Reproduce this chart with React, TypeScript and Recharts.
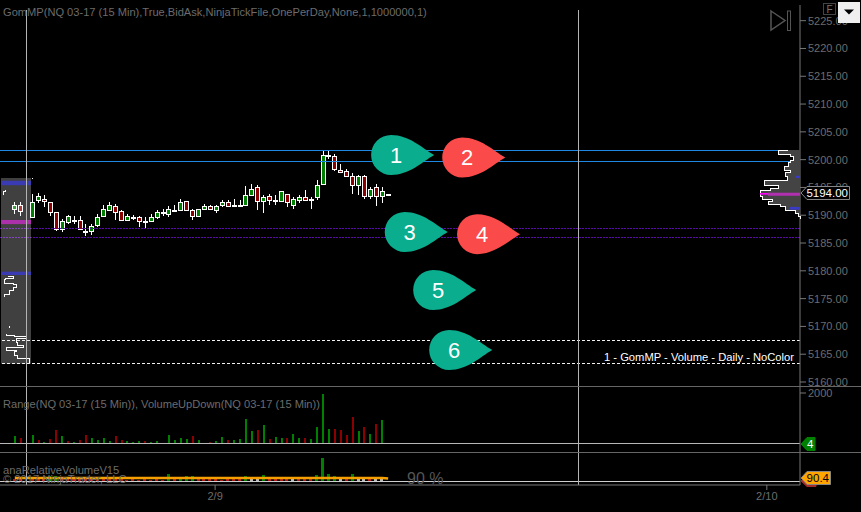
import { Bar, Cell, ComposedChart, Line, ReferenceArea, ReferenceLine, Scatter, Area, XAxis, YAxis } from "recharts";

// candles, one slot per 15 min bar, null = session gap
const highs = [5192.4, 5192.4, null, 5193.9, 5194.0, 5193.6, 5192.4, 5190.6, 5189.4, 5190.0, 5189.8, 5189.8, 5188.4, 5188.4, 5190.3, 5191.8, 5192.4, 5192.0, 5191.0, 5190.3, 5190.0, 5189.8, 5189.6, 5190.3, 5190.9, 5191.2, 5191.7, 5191.8, 5193.0, 5192.6, 5191.2, 5191.2, 5192.0, 5191.8, 5191.8, 5192.7, 5192.8, 5192.9, 5192.8, 5195.2, 5195.7, 5195.4, 5193.6, 5193.9, 5193.7, 5194.3, 5193.9, 5193.3, 5193.7, 5194.5, 5193.3, 5196.3, 5201.7, 5201.6, 5201.0, 5199.3, 5198.4, 5197.6, 5197.2, 5197.2, 5195.1, 5195.6, 5195.0, 5193.9];
const lows = [5190.3, 5189.8, null, 5189.5, 5192.2, 5191.4, 5189.8, 5187.2, 5187.0, 5188.5, 5188.5, 5187.5, 5186.2, 5186.4, 5187.9, 5189.6, 5190.8, 5189.1, 5189.1, 5189.0, 5189.1, 5187.8, 5187.5, 5188.9, 5189.4, 5189.8, 5189.7, 5190.9, 5190.9, 5190.9, 5189.1, 5189.7, 5191.0, 5191.0, 5190.4, 5191.4, 5191.4, 5191.4, 5191.5, 5191.8, 5193.5, 5190.9, 5190.4, 5191.8, 5191.8, 5192.5, 5191.4, 5191.1, 5192.2, 5192.8, 5191.1, 5192.8, 5195.5, 5200.2, 5198.0, 5197.6, 5196.9, 5193.8, 5193.7, 5193.0, 5193.0, 5191.7, 5192.2, 5193.9];
const opens = [5191.1, 5191.9, null, 5189.7, 5192.8, 5193.0, 5192.3, 5190.5, 5187.5, 5188.7, 5189.2, 5189.2, 5187.15, 5187.1, 5188.3, 5189.8, 5191.0, 5191.7, 5190.8, 5189.2, 5189.75, 5189.6, 5188.7, 5189.0, 5189.6, 5190.55, 5190.3, 5190.95, 5191.0, 5192.5, 5191.0, 5189.8, 5191.2, 5191.7, 5191.0, 5191.9, 5192.3, 5191.6, 5191.85, 5191.9, 5193.7, 5195.0, 5192.5, 5193.5, 5192.75, 5192.5, 5193.9, 5191.9, 5192.8, 5193.2, 5193.0, 5193.2, 5195.7, 5200.8, 5200.7, 5198.2, 5198.0, 5197.0, 5195.5, 5197.0, 5193.5, 5195.0, 5193.5, 5193.9];
const closes = [5191.9, 5190.7, null, 5192.3, 5193.5, 5192.5, 5190.5, 5187.5, 5189.0, 5189.8, 5189.2, 5187.6, 5187.15, 5188.0, 5189.6, 5191.2, 5191.9, 5190.5, 5189.2, 5189.8, 5189.75, 5189.0, 5189.0, 5189.6, 5190.5, 5190.55, 5191.2, 5190.95, 5192.3, 5191.0, 5189.9, 5191.2, 5191.6, 5191.2, 5191.7, 5192.3, 5191.6, 5191.9, 5191.85, 5193.7, 5194.8, 5192.5, 5193.2, 5192.8, 5192.75, 5194.3, 5192.3, 5193.0, 5193.2, 5192.8, 5193.0, 5195.5, 5200.9, 5200.8, 5198.4, 5197.7, 5197.0, 5195.5, 5197.0, 5193.5, 5194.8, 5193.5, 5194.3, 5193.9];

const volumes = [314, 235, null, 353, 157, 78, 196, 549, 314, 118, 78, 157, 353, 235, 157, 235, 118, 314, 157, 118, 78, 118, 118, 78, 118, 39, 353, 157, 235, 196, 314, 157, 39, 78, 118, 275, 157, 157, 196, 980, 510, 549, 745, 196, 275, 235, 235, 392, 235, 235, 196, 667, 1960, 588, 588, 549, 353, 1058, 510, 667, 392, 784, 941];
const volumeDown = [1, 4, 6, 7, 9, 11, 12, 17, 18, 22, 30, 33, 36, 41, 43, 46, 49, 54, 55, 56, 57, 59, 61];

const relVolumes = [60, 60, null, 70, 60, 70, 150, 150, 60, 60, 60, 60, 60, 60, 60, 60, 60, 60, 60, 40, 60, 40, 60, 40, 60, 40, 200, 60, 130, 140, 140, 60, 60, 60, 60, 40, 60, 60, 60, 140, 100, 100, 180, 60, 60, 60, 60, 100, 60, 60, 60, 170, 690, 210, 140, 100, 60, 210, 100, 100, 60, 100, 100];
const relGreen = [6, 7, 26, 28, 29, 30, 39, 42, 51, 52, 53, 54, 57];
const relGrey = [40, 41, 47, 55, 58, 59, 61, 62];
const relAverage = [92, 92, null, 92, 92, 92, 92, 92, 92, 92, 92, 92, 92, 92, 92, 92, 92, 92, 92, 92, 92, 92, 92, 92, 92, 92, 92, 92, 91, 91, 91, 91, 91, 91, 91, 91, 91, 91, 91, 91, 91, 91, 91, 91, 91, 91, 91, 91, 91, 91, 91, 91, 91, 91, 91, 91, 91, 91, 91, 91, 91, 91, 90.4, 75];

const priceTicks = [5160, 5165, 5170, 5175, 5180, 5185, 5190, 5195, 5200, 5205, 5210, 5215, 5220, 5225];
const levelPrices = [5201.7, 5199.7];
const sessionPrices = [5187.6, 5186.0];
const volumePrices = [5167.5, 5163.4];
const lastPrice = 5194;

const sessionLines = [3.94, 97.2];
const dateTicks = [35.8, 128.9];
const dateLabels = ["2/9", "2/10"];

const pinSlots = [65.5, 77.5, 67.8, 80, 72.6, 75.3];
const pinPrices = [5200.84, 5200.4, 5187, 5186.6, 5176.55, 5165.76];
const pinLabels = ["1", "2", "3", "4", "5", "6"];
const pinSides = ["long", "short", "long", "short", "long", "long"];

const leftProfile = [
  [5196.7, 31], [5196.5, 31], [5196.4, null],
  [5194.5, 4], [5194.2, 4], [5193.6, 2], [5193.5, null],
  [5178.9, 7], [5178.7, 12], [5178.35, 4], [5177.8, 3], [5177.45, 12], [5177.0, 15], [5176.4, 12], [5175.8, 8], [5175.35, 3], [5175.3, null],
  [5170.1, 8], [5169.7, 8], [5169.6, null],
  [5168.7, 5], [5168.45, 5], [5168.15, 13], [5167.75, 25], [5167.05, 15], [5166.65, 16], [5166.25, 22], [5165.65, 5], [5165.4, 15], [5164.85, 13], [5164.3, 16], [5163.8, 28], [5163.45, 28],
];
const rightProfile = [
  [5201.7, 12], [5201.0, 22], [5200.5, 10], [5199.9, 7], [5199.4, 10], [5198.7, 12], [5198.1, 16], [5197.6, 10], [5196.9, 15], [5196.3, 13], [5195.4, 36], [5194.85, 22], [5194.4, 30], [5193.8, 40], [5193.3, 40], [5192.9, 38], [5192.4, 28], [5192.0, 32], [5191.5, 20], [5190.9, 15], [5190.4, 5], [5189.7, 2], [5189.3, 0],
];

const SLOT_COUNT = 135;
const PLOT_W = 800;
const MAIN_H = 386;
const PRICE_DOMAIN: [number, number] = [5159.28, 5227.82];
const SLOT_DOMAIN: [number, number] = [-0.5, SLOT_COUNT - 0.5];
const FONT = '"Liberation Sans", Arial, sans-serif';
const AXIS_GREY = "#777";
const TEXT_GREY = "#6c6c6c";
const UP = "#008000";
const DOWN = "#8b0000";

const slots = Array.from({ length: SLOT_COUNT }, (_, slot) => {
  const i = slot - 2;
  const has = i >= 0 && i < highs.length && highs[i] !== null;
  const relGroup = relGreen.includes(i) ? UP : relGrey.includes(i) ? "#bbb" : "#b01818";
  return {
    slot,
    range: has ? [lows[i], highs[i]] : null,
    open: has ? opens[i] : null,
    close: has ? closes[i] : null,
    volume: i >= 0 ? volumes[i] ?? null : null,
    volumeFill: volumeDown.includes(i) ? DOWN : UP,
    rel: i >= 0 ? relVolumes[i] ?? null : null,
    relFill: relGroup,
    relAvg: i >= 0 ? relAverage[i] ?? null : null,
  };
});
const pins = pinSlots.map((slot, i) => ({ slot, price: pinPrices[i], label: pinLabels[i], side: pinSides[i] }));
const leftRows = leftProfile.map(([price, size]) => ({ price, size }));
const rightRows = rightProfile.map(([price, size]) => ({ price, size }));

function Candle(props: any) {
  const { x, y, width, height, payload } = props;
  if (!payload.range) return null;
  const [low, high] = payload.range;
  const perUnit = height / (high - low || 1);
  const px = (p: number) => y + (high - p) * perUnit;
  const cx = Math.round(x + width / 2);
  const top = Math.round(px(Math.max(payload.open, payload.close)));
  const bottom = Math.round(px(Math.min(payload.open, payload.close)));
  const up = payload.close >= payload.open;
  return (
    <g shapeRendering="crispEdges">
      <line x1={cx + 0.5} x2={cx + 0.5} y1={y} y2={y + height} stroke="#fff" />
      <rect x={cx - 1.5} y={top + 0.5} width={4} height={Math.max(bottom - top, 1)} fill={up ? UP : DOWN} stroke="#fff" />
    </g>
  );
}

function Pin(props: any) {
  const { cx, cy, payload } = props;
  return (
    <g transform={`translate(${cx},${cy})`}>
      <path d="M43 0C31 -7 18 -20 0 -20A20 20 0 0 0 0 20C18 20 31 7 43 0Z" fill={payload.side === "long" ? "#0aae8e" : "#fa4a4a"} />
      <text x={5} y={8} textAnchor="middle" fontSize={22} fontFamily={FONT} fill="#fff">
        {payload.label}
      </text>
    </g>
  );
}

// price marker sitting on the right axis
function AxisFlag({ viewBox, right, half, fill, stroke, text, color }: any) {
  const x = viewBox.x + viewBox.width + 1;
  const y = viewBox.y;
  return (
    <g>
      <path d={`M${x} ${y}L${x + 6} ${y - half}L${right} ${y - half}L${right} ${y + half}L${x + 6} ${y + half}Z`} fill={fill} stroke={stroke} />
      {text ? (
        <text x={right - 1.5} y={y + 4} textAnchor="end" fontSize={11.5} fontFamily={FONT} fill={color}>
          {text}
        </text>
      ) : null}
    </g>
  );
}

const tickStyle = { fill: TEXT_GREY, fontSize: 11, fontFamily: FONT };
const panelStyle = (top: number): React.CSSProperties => ({ position: "absolute", left: 0, top });

function MainPanel() {
  return (
    <>
      <div style={panelStyle(0)}>
        <ComposedChart width={861} height={MAIN_H} data={slots} margin={{ top: 5, right: 0, bottom: 0, left: 0 }}>
          <XAxis dataKey="slot" hide height={0} />
          <YAxis
            orientation="right"
            width={61}
            type="number"
            domain={PRICE_DOMAIN}
            allowDataOverflow
            ticks={priceTicks}
            interval={0}
            tickFormatter={(v: number) => v.toFixed(2)}
            stroke={AXIS_GREY}
            tick={tickStyle}
            tickSize={6}
            tickMargin={2}
          />
          {levelPrices.map((p) => (
            <ReferenceLine key={p} y={p} stroke="#1e88e5" shapeRendering="crispEdges" />
          ))}
          {sessionPrices.map((p) => (
            <ReferenceLine key={p} y={p} stroke="#5a0aa8" strokeDasharray="2 1" shapeRendering="crispEdges" />
          ))}
          {volumePrices.map((p) => (
            <ReferenceLine key={p} y={p} stroke="#f0f0f0" strokeDasharray="3 2" shapeRendering="crispEdges" />
          ))}
          <Bar dataKey="range" barSize={5} shape={<Candle />} isAnimationActive={false} />
        </ComposedChart>
      </div>

      {/* left profile, drawn over the candles so they dim behind it */}
      <div style={panelStyle(0)}>
        <ComposedChart width={861} height={MAIN_H} layout="vertical" data={leftRows} margin={{ top: 5, right: 61, bottom: 0, left: 0 }}>
          <XAxis type="number" domain={[-1, PLOT_W - 1]} hide height={0} />
          <YAxis type="number" dataKey="price" domain={PRICE_DOMAIN} allowDataOverflow reversed hide width={0} />
          <ReferenceArea x1={0} x2={30} y1={5163.3} y2={5196.7} fill="#fff" fillOpacity={0.25} stroke="none" />
          <ReferenceArea x1={0} x2={30} y1={5195.4} y2={5196.2} fill="#3a3ac8" fillOpacity={0.85} stroke="none" />
          <ReferenceArea x1={0} x2={30} y1={5188.4} y2={5189.15} fill="#b030b0" fillOpacity={0.95} stroke="none" />
          <ReferenceArea x1={0} x2={30} y1={5179.25} y2={5179.85} fill="#3a3ac8" fillOpacity={0.85} stroke="none" />
          <Area dataKey="size" type="stepAfter" stroke="#fff" strokeWidth={1} fill="none" dot={false} connectNulls={false} shapeRendering="crispEdges" isAnimationActive={false} />
        </ComposedChart>
      </div>

      {/* right profile of the current session */}
      <div style={panelStyle(0)}>
        <ComposedChart width={861} height={MAIN_H} layout="vertical" data={rightRows} margin={{ top: 5, right: 61, bottom: 0, left: 0 }}>
          <XAxis type="number" domain={[0, PLOT_W]} reversed hide height={0} />
          <YAxis type="number" dataKey="price" domain={PRICE_DOMAIN} allowDataOverflow reversed hide width={0} />
          <Area dataKey="size" type="stepAfter" stroke="#fff" strokeWidth={1} fill="#444" fillOpacity={1} dot={false} shapeRendering="crispEdges" isAnimationActive={false} />
          <ReferenceArea x1={0} x2={32} y1={5193.5} y2={5194.05} fill="#b030b0" fillOpacity={1} stroke="none" />
          <ReferenceArea x1={32} x2={40} y1={5193.7} y2={5194} fill="#ff00ff" fillOpacity={1} stroke="none" />
          <ReferenceArea x1={0} x2={10} y1={5191} y2={5191.5} fill="#3a3ac8" fillOpacity={1} stroke="none" />
          <ReferenceArea x1={0} x2={4} y1={5196.7} y2={5197.1} fill="#3a3ac8" fillOpacity={1} stroke="none" />
        </ComposedChart>
      </div>

      {/* session lines, pins and the last price marker */}
      <div style={panelStyle(0)}>
        <ComposedChart width={861} height={MAIN_H} margin={{ top: 5, right: 61, bottom: 0, left: 0 }}>
          <XAxis type="number" dataKey="slot" domain={SLOT_DOMAIN} allowDataOverflow hide height={0} />
          <YAxis type="number" dataKey="price" domain={PRICE_DOMAIN} allowDataOverflow hide width={0} />
          {sessionLines.map((x) => (
            <ReferenceLine
              key={x}
              segment={[
                { x, y: 5227 },
                { x, y: PRICE_DOMAIN[0] },
              ]}
              stroke="#b4b4b4"
              shapeRendering="crispEdges"
            />
          ))}
          <ReferenceLine
            y={lastPrice}
            stroke="none"
            label={(p: any) => <AxisFlag viewBox={p.viewBox} right={849.5} half={6.5} fill="#000" stroke="#888" text={lastPrice.toFixed(2)} color="#fff" />}
          />
          <Scatter data={pins} dataKey="price" shape={<Pin />} isAnimationActive={false} />
        </ComposedChart>
      </div>
    </>
  );
}

function VolumePanel() {
  return (
    <div style={panelStyle(MAIN_H)}>
      <ComposedChart width={861} height={66} data={slots} margin={{ top: 0, right: 0, bottom: 0, left: 0 }}>
        <XAxis xAxisId="slot" dataKey="slot" hide height={0} />
        <XAxis xAxisId="time" dataKey="slot" type="number" domain={SLOT_DOMAIN} allowDataOverflow hide height={0} />
        <YAxis
          orientation="right"
          width={61}
          type="number"
          domain={[-314, 2275]}
          allowDataOverflow
          ticks={[2000]}
          interval={0}
          stroke={AXIS_GREY}
          tick={tickStyle}
          tickSize={6}
          tickMargin={2}
        />
        <Bar xAxisId="slot" dataKey="volume" barSize={2} shapeRendering="crispEdges" isAnimationActive={false}>
          {slots.map((d) => (
            <Cell key={d.slot} fill={d.volumeFill} />
          ))}
        </Bar>
        <ReferenceLine
          xAxisId="time"
          y={0}
          stroke="#b8b8b8"
          shapeRendering="crispEdges"
          label={(p: any) => <AxisFlag viewBox={p.viewBox} right={815} half={6.5} fill="#008000" stroke="#008000" text="4" color="#fff" />}
        />
        {sessionLines.map((x) => (
          <ReferenceLine key={x} xAxisId="time" x={x} stroke="#b4b4b4" shapeRendering="crispEdges" />
        ))}
      </ComposedChart>
    </div>
  );
}

function RelativePanel() {
  return (
    <div style={panelStyle(452)}>
      <ComposedChart width={861} height={60} data={slots} margin={{ top: 0, right: 0, bottom: 0, left: 0 }}>
        <XAxis xAxisId="slot" dataKey="slot" hide height={0} />
        <XAxis
          xAxisId="time"
          dataKey="slot"
          type="number"
          domain={SLOT_DOMAIN}
          allowDataOverflow
          height={27}
          ticks={dateTicks}
          interval={0}
          tickFormatter={(v: number) => dateLabels[dateTicks.indexOf(v)]}
          stroke={AXIS_GREY}
          tick={tickStyle}
          tickSize={5}
          tickMargin={2}
        />
        <YAxis orientation="right" width={61} type="number" domain={[-120, 870]} allowDataOverflow tick={false} tickLine={false} stroke={AXIS_GREY} />
        <Bar xAxisId="slot" dataKey="rel" barSize={3} shapeRendering="crispEdges" isAnimationActive={false}>
          {slots.map((d) => (
            <Cell key={d.slot} fill={d.relFill} />
          ))}
        </Bar>
        <Line xAxisId="slot" dataKey="relAvg" stroke="#f5a000" strokeWidth={2.5} dot={false} connectNulls isAnimationActive={false} />
        <ReferenceLine
          xAxisId="time"
          y={0}
          stroke="#cfcfcf"
          shapeRendering="crispEdges"
          label={(p: any) => <AxisFlag viewBox={p.viewBox} right={816} half={5.5} fill="#a52a2a" stroke="#a52a2a" />}
        />
        <ReferenceLine
          xAxisId="time"
          y={90.4}
          stroke="none"
          label={(p: any) => <AxisFlag viewBox={p.viewBox} right={830.5} half={6.5} fill="#ffa500" stroke="#888" text="90.4" color="#000" />}
        />
        {sessionLines.map((x) => (
          <ReferenceLine key={x} xAxisId="time" x={x} stroke="#b4b4b4" shapeRendering="crispEdges" />
        ))}
      </ComposedChart>
    </div>
  );
}

// window furniture and pane captions
function Overlay() {
  return (
    <svg width={861} height={512} style={{ position: "absolute", left: 0, top: 0, pointerEvents: "none" }} fontFamily={FONT}>
      <line x1={0} x2={861} y1={386.5} y2={386.5} stroke="#666" />
      <line x1={0} x2={861} y1={452.5} y2={452.5} stroke="#666" />
      <text x={3} y={16} fontSize={11.1} fill={TEXT_GREY}>
        GomMP(NQ 03-17 (15 Min),True,BidAsk,NinjaTickFile,OnePerDay,None,1,1000000,1)
      </text>
      <text x={3} y={408} fontSize={11.1} fill={TEXT_GREY}>
        Range(NQ 03-17 (15 Min)), VolumeUpDown(NQ 03-17 (15 Min))
      </text>
      <text x={3} y={474} fontSize={11.2} fill={TEXT_GREY}>
        anaRelativeVolumeV15
      </text>
      <text x={3} y={483} fontSize={11.2} fill={TEXT_GREY}>
        © 2017 NinjaTrader, LLC
      </text>
      <text x={407} y={484} fontSize={16} fill="#555">
        90 %
      </text>
      <text x={794} y={361} textAnchor="end" fontSize={11.2} fill="#fff">
        1 - GomMP - Volume - Daily - NoColor
      </text>
      <path d="M771 11L785 20.5L771 30Z" fill="none" stroke="#555" strokeWidth={1.5} />
      <rect x={787.5} y={11} width={3} height={19.5} fill="none" stroke="#555" />
      <rect x={823.5} y={3.5} width={12} height={11} fill="none" stroke="#444" />
      <text x={826.5} y={13} fontSize={10} fill="#777">
        F
      </text>
      <rect x={838} y={2} width={22} height={21} fill="#efefef" />
      <path d="M844 9.5L854 9.5L849 14.5Z" fill="#000" />
    </svg>
  );
}

export default function App() {
  return (
    <div style={{ position: "absolute", left: 0, top: 0, width: 861, height: 512, background: "#000", overflow: "hidden" }}>
      <MainPanel />
      <VolumePanel />
      <RelativePanel />
      <Overlay />
    </div>
  );
}
